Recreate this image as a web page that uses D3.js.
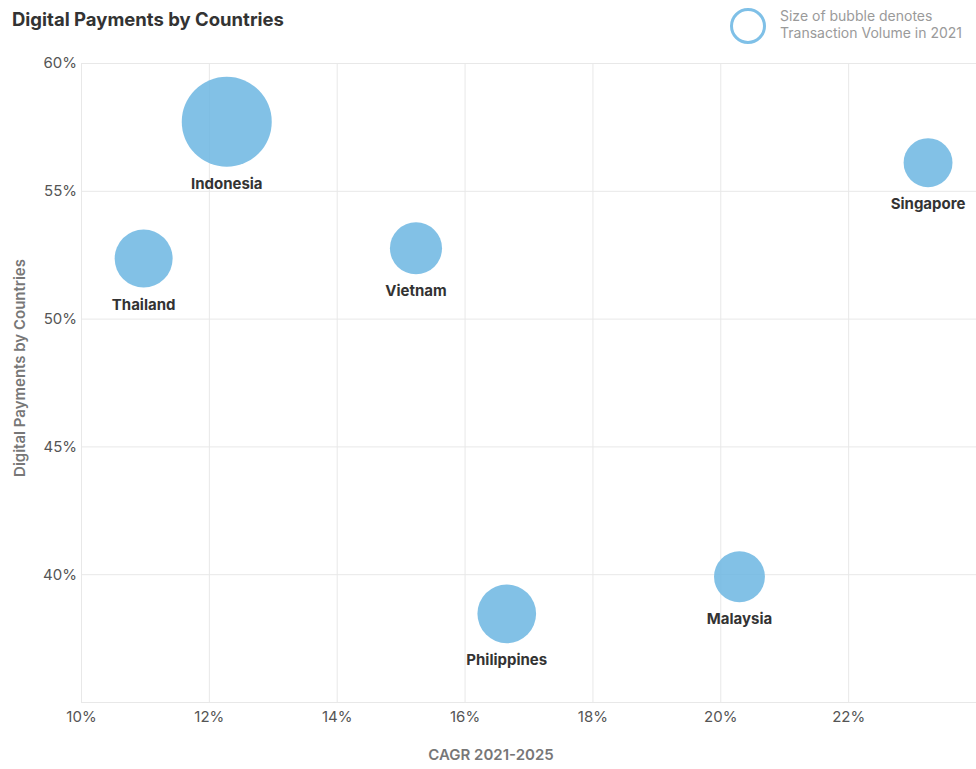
<!DOCTYPE html>
<html>
<head>
<meta charset="utf-8">
<script src="https://cdn.jsdelivr.net/npm/d3@7"></script>
<style>
  body { margin: 0; background: #fff; }
  svg { display: block; font-family: Inter, 'Open Sans', sans-serif; }
</style>
</head>
<body>
<div id="chart"></div>
<script>
// Data
const countries = ['Indonesia', 'Thailand', 'Vietnam', 'Singapore', 'Philippines', 'Malaysia']
const cagr = [12.28, 10.98, 15.24, 23.25, 16.66, 20.3]          // x, %
const digitalShare = [57.7, 52.35, 52.75, 56.1, 38.45, 39.9]     // y, %
const txVolume = [2000, 830, 670, 590, 850, 640]                 // bubble size
const xTicks = [10, 12, 14, 16, 18, 20, 22]
const yTicks = [40, 45, 50, 55, 60]

const W = 976, H = 769
const margin = { top: 63, right: 0, bottom: 67, left: 81 }

const svg = d3.select('#chart').append('svg')
  .attr('width', W).attr('height', H)

const x = d3.scaleLinear().domain([10, 24]).range([margin.left, W - margin.right])
const y = d3.scaleLinear().domain([35, 60]).range([H - margin.bottom, margin.top])
const r = d3.scaleSqrt().domain([0, 2000]).range([0, 45])

// Title
svg.append('text').attr('x', 12).attr('y', 26)
  .style('font-size', '18.5px').style('font-weight', 700).style('fill', '#333')
  .text('Digital Payments by Countries')

// Legend
svg.append('circle').attr('cx', 748).attr('cy', 26).attr('r', 16.5)
  .attr('fill', 'none').attr('stroke', '#7fc0e7').attr('stroke-width', 3)
const lg = svg.append('text').attr('x', 780).style('font-size', '14px').style('fill', '#9a9a9a')
lg.append('tspan').attr('x', 780).attr('y', 21).text('Size of bubble denotes')
lg.append('tspan').attr('x', 780).attr('y', 38).text('Transaction Volume in 2021')

// Grid
const grid = svg.append('g').attr('stroke', '#e8e8e8').attr('stroke-width', 1)
grid.selectAll('.gx').data(xTicks).join('line')
  .attr('x1', d => x(d) + 0.5).attr('x2', d => x(d) + 0.5)
  .attr('y1', y(60)).attr('y2', y(35))
grid.selectAll('.gy').data(yTicks).join('line')
  .attr('x1', x(10)).attr('x2', x(24))
  .attr('y1', d => y(d) + 0.5).attr('y2', d => y(d) + 0.5)
grid.append('line').attr('x1', x(10)).attr('x2', x(24))
  .attr('y1', y(35) + 0.5).attr('y2', y(35) + 0.5)

// Axes (labels only)
const xAxis = svg.append('g').attr('transform', `translate(0,${y(35)})`)
  .call(d3.axisBottom(x).tickValues(xTicks).tickFormat(d => d + '%').tickSize(0).tickPadding(9))
xAxis.select('.domain').remove()
xAxis.selectAll('text').style('font-size', '15px').style('fill', '#555').style('font-family', 'Inter, sans-serif')

const yAxis = svg.append('g').attr('transform', `translate(${x(10)},0)`)
  .call(d3.axisLeft(y).tickValues(yTicks).tickFormat(d => d + '%').tickSize(0).tickPadding(4))
yAxis.select('.domain').remove()
yAxis.selectAll('text').style('font-size', '15px').style('fill', '#555').style('font-family', 'Inter, sans-serif')
  .attr('dy', '0.32em')

// Axis titles
svg.append('text').attr('x', 491).attr('y', 760).attr('text-anchor', 'middle')
  .style('font-size', '15px').style('font-weight', 600).style('fill', '#777')
  .text('CAGR 2021-2025')
svg.append('text').attr('transform', 'translate(25,368) rotate(-90)').attr('text-anchor', 'middle')
  .style('font-size', '15px').style('font-weight', 600).style('fill', '#777')
  .text('Digital Payments by Countries')

// Bubbles
const pts = countries.map((c, i) => ({ c, x: cagr[i], y: digitalShare[i], v: txVolume[i] }))
const g = svg.append('g')
g.selectAll('circle').data(pts).join('circle')
  .attr('cx', d => x(d.x)).attr('cy', d => y(d.y)).attr('r', d => r(d.v))
  .attr('fill', '#6cb6e2').attr('fill-opacity', 0.85)

g.selectAll('text').data(pts).join('text')
  .attr('x', d => x(d.x)).attr('y', d => y(d.y) + r(d.v) + 22)
  .attr('text-anchor', 'middle')
  .style('font-size', '15px').style('font-weight', 700).style('fill', '#333')
  .text(d => d.c)
</script>
</body>
</html>
